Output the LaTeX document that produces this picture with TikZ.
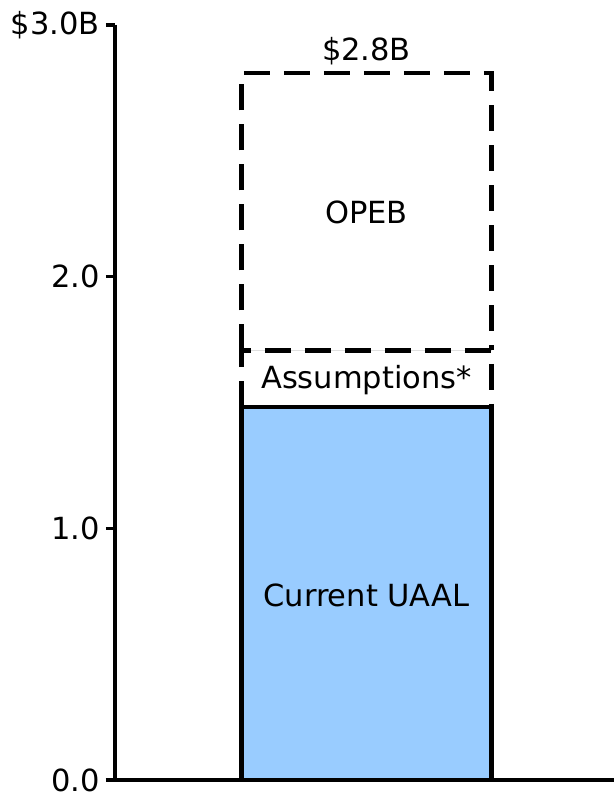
\documentclass[tikz,border=0pt]{standalone}
\usepackage{fontspec}
\setmainfont{DejaVu Sans}
\usepackage{xcolor}
\usepackage{tikz}
\usetikzlibrary{positioning}

\definecolor{uaalblue}{HTML}{99CCFF}

\begin{document}
\begin{tikzpicture}[
    x=1pt, y=251.67pt,
    lbl/.style={font=\fontsize{30.5}{35}\selectfont, inner sep=0pt},
    axisline/.style={line width=3.4pt},
    solidbox/.style={draw, line width=4.3pt, fill=uaalblue},
    dashbox/.style={draw, line width=4.3pt, dash pattern=on 26pt off 14pt}
  ]
    \useasboundingbox (-115,-15/251.67) rectangle (499,780/251.67);
    % axes
    \draw[axisline] (0,3) -- (0,0);
    \draw[axisline] (-9,0) -- (499,0);
    \foreach \v/\t in {0/0.0, 1/1.0, 2/2.0, 3/\$3.0B} {
      \draw[axisline] (-9,\v) -- (0,\v);
      \node[lbl, anchor=east] (tick\v) at (-15,\v) {\t};
    }
    % bars
    \draw[solidbox] (126.5,0) rectangle (376.5,1.482);
    \draw[gray!25, line width=1pt] (126.5,1.707) -- (376.5,1.707);
    \draw[dashbox] (126.5,1.482) -- (126.5,1.707) -- (376.5,1.707) -- (376.5,1.482);
    \draw[dashbox] (126.5,1.707) -- (126.5,2.81) -- (376.5,2.81) -- (376.5,1.707);
    % labels
    \node[lbl] (uaal) at (251.5,0.735) {Current UAAL};
    \node[lbl] (assum) at (251.5,1.59) {Assumptions*};
    \node[lbl] (opeb) at (251.5,2.255) {OPEB};
    \node[lbl, above=8pt of {(251.5,2.81)}] (total) {\$2.8B};
\end{tikzpicture}
\end{document}
